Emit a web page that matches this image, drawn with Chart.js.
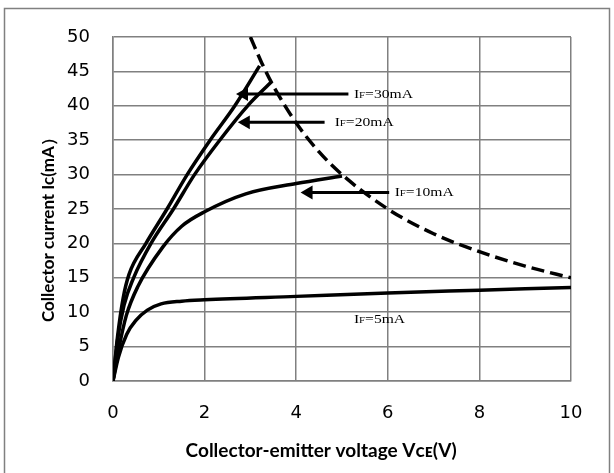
<!DOCTYPE html>
<html>
<head>
<meta charset="utf-8">
<script src="https://cdn.jsdelivr.net/npm/chart.js@4.4.1/dist/chart.umd.min.js"></script>
<style>
	html, body { margin: 0; padding: 0; background: #fff; }
	#chart-ic-vce { display: block; }
</style>
</head>
<body>
<canvas id="chart-ic-vce" width="614" height="473"></canvas>
<script>
//---------------------------------------------------------
// Data
//---------------------------------------------------------
const X_TICKS = [0, 2, 4, 6, 8, 10];
const Y_TICKS = [0, 5, 10, 15, 20, 25, 30, 35, 40, 45, 50];

// Ic vs Vce for each forward current
const IF30_V = [0, 0.1, 0.22, 0.35, 0.72, 1.18, 1.62, 2.12, 2.66, 3.2];
const IF30_I = [0, 6.5, 12, 15.5, 20, 25, 30, 35, 40, 45.8];
const IF20_V = [0, 0.1, 0.24, 0.45, 0.83, 1.32, 1.78, 2.33, 2.94, 3.46];
const IF20_I = [0, 6, 11, 15, 20, 25, 30, 35, 40, 43.5];
const IF10_V = [0, 0.12, 0.29, 0.54, 1.09, 1.5, 2, 2.9, 4, 5];
const IF10_I = [0, 4.5, 9.5, 13.7, 19.5, 22.5, 24.6, 27.2, 28.7, 29.8];
const IF5_V = [0, 0.12, 0.3, 0.5, 0.75, 1.05, 1.5, 2, 4, 6, 8, 10];
const IF5_I = [0, 3.5, 6.8, 8.8, 10.3, 11.2, 11.6, 11.8, 12.3, 12.8, 13.2, 13.6];

// Dissipation limit (dashed)
const LIMIT_V = [3, 3.25, 3.5, 4, 4.5, 5, 6, 7, 8, 9, 10];
const LIMIT_I = [50, 46.2, 42.9, 37.5, 33.3, 30, 25, 21.4, 18.8, 16.7, 15];

// Callouts: label, arrow head x, arrow tail x, y, label x
const CALLOUT_TEXT = ["30mA", "20mA", "10mA", "5mA"];
const CALLOUT_HEAD = [2.86, 2.9, 4.27, null];
const CALLOUT_TAIL = [5.14, 4.62, 6.03, null];
const CALLOUT_Y = [41.7, 37.6, 27.4, 9.0];
const CALLOUT_LABEL_X = [5.26, 4.84, 6.15, 5.26];

//---------------------------------------------------------
// Helpers
//---------------------------------------------------------
const toPoints = (xs, ys) => xs.map((x, i) => ({ x: x, y: ys[i] }));
const GRID_COLOR = "#808080";
const NBSP = (n) => "\u00a0".repeat(n);

const curve = (xs, ys, width) => ({
	data: toPoints(xs, ys),
	borderColor: "#000",
	borderWidth: width,
	pointRadius: 0,
	cubicInterpolationMode: "monotone",
	fill: false,
});

const arrows = [];
CALLOUT_HEAD.forEach((head, i) => {
	if (head === null) return;
	arrows.push({
		data: [{ x: head, y: CALLOUT_Y[i] }, { x: CALLOUT_TAIL[i], y: CALLOUT_Y[i] }],
		borderColor: "#000",
		backgroundColor: "#000",
		borderWidth: 3,
		pointStyle: "triangle",
		rotation: -90,
		pointRadius: [8, 0],
		pointBorderWidth: 0,
		fill: false,
	});
});

// Frame around the whole figure + callout labels
const figurePlugin = {
	id: "figure",
	beforeDraw(chart) {
		const { ctx } = chart;
		ctx.save();
		ctx.fillStyle = "#fff";
		ctx.fillRect(0, 0, chart.width, chart.height);
		ctx.strokeStyle = GRID_COLOR;
		ctx.lineWidth = 1.5;
		ctx.strokeRect(4.5, 8.5, 605, 480);
		ctx.restore();
	},
	afterDatasetsDraw(chart) {
		const { ctx, scales } = chart;
		CALLOUT_TEXT.forEach((txt, i) => {
			const px = scales.x.getPixelForValue(CALLOUT_LABEL_X[i]);
			const py = scales.y.getPixelForValue(CALLOUT_Y[i]);
			ctx.save();
			ctx.translate(px, py);
			ctx.scale(1.2, 1);
			ctx.fillStyle = "#000";
			ctx.textBaseline = "middle";
			ctx.textAlign = "left";
			let x = 0;
			ctx.font = "13px 'Liberation Serif'";
			ctx.fillText("I", x, 0);
			x += ctx.measureText("I").width;
			ctx.font = "9px 'Liberation Serif'";
			ctx.fillText("F", x, 1.5);
			x += ctx.measureText("F").width;
			ctx.font = "13px 'Liberation Serif'";
			ctx.fillText("=" + txt, x, 0);
			ctx.restore();
		});
	},
};

//---------------------------------------------------------
// Chart
//---------------------------------------------------------
const CHART_CONFIG = {
	type: "line",
	data: {
		datasets: [
			curve(IF30_V, IF30_I, 3.5),
			curve(IF20_V, IF20_I, 3.5),
			curve(IF10_V, IF10_I, 3.5),
			curve(IF5_V, IF5_I, 3.5),
			{ ...curve(LIMIT_V, LIMIT_I, 3.5), borderDash: [13, 6] },
			...arrows,
		],
	},
	options: {
		responsive: false,
		animation: false,
		layout: {
			padding: { top: 37, right: 43, bottom: 0, left: 0 },
		},
		scales: {
			x: {
				type: "linear",
				min: 0,
				max: 10,
				afterBuildTicks: (scale) => {
					scale.ticks = X_TICKS.map((v) => ({ value: v }));
				},
				afterFit: (scale) => {
					scale.height = 92;
				},
				border: { display: true, color: GRID_COLOR, width: 1.5 },
				grid: { color: GRID_COLOR, lineWidth: 1.5, drawTicks: false },
				ticks: {
					color: "#000",
					padding: 22,
					font: { family: "'DejaVu Sans'", size: 18 },
				},
				title: {
					display: true,
					// trailing spaces pull the centred title left, as in the original
					text: "Collector-emitter voltage Vᴄᴇ(V)" + NBSP(9),
					color: "#000",
					padding: { top: 0, bottom: 11 },
					font: { family: "Lato", size: 19, weight: "bold" },
				},
			},
			y: {
				type: "linear",
				min: 0,
				max: 50,
				afterBuildTicks: (scale) => {
					scale.ticks = Y_TICKS.map((v) => ({ value: v }));
				},
				afterFit: (scale) => {
					scale.width = 113;
				},
				border: { display: true, color: GRID_COLOR, width: 1.5 },
				grid: { color: GRID_COLOR, lineWidth: 1.5, drawTicks: false },
				ticks: {
					color: "#000",
					padding: 23,
					font: { family: "'DejaVu Sans'", size: 18 },
				},
				title: {
					display: true,
					text: "Collector current Ic(mA）" + NBSP(8),
					color: "#000",
					padding: { top: 38, bottom: 0 },
					font: { family: "Lato", size: 17, weight: "bold" },
				},
			},
		},
		plugins: {
			legend: { display: false },
			tooltip: { enabled: false },
		},
	},
	plugins: [figurePlugin],
};

new Chart(document.getElementById("chart-ic-vce"), CHART_CONFIG);
</script>
</body>
</html>
